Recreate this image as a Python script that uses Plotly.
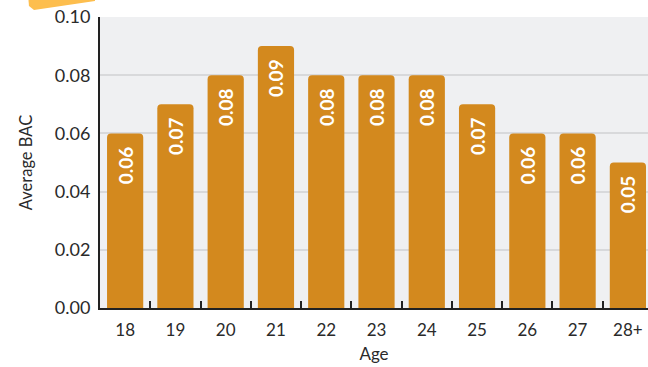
import plotly.graph_objects as go

ages = ["18", "19", "20", "21", "22", "23", "24", "25", "26", "27", "28+"]
avg_bac = [0.06, 0.07, 0.08, 0.09, 0.08, 0.08, 0.08, 0.07, 0.06, 0.06, 0.05]
y_ticks = [0.00, 0.02, 0.04, 0.06, 0.08, 0.10]

W, H = 648, 367
L, R, T, B = 100, 0, 17, 59
pw, ph = W - L - R, H - T - B

def px(x):
    return (x - L) / pw

def py(y):
    return (H - B - y) / ph

FONT = "Lato, Open Sans, sans-serif"

fig = go.Figure(go.Bar(
    x=ages, y=avg_bac,
    marker=dict(color="#D3891E", line=dict(width=0)),
    width=0.72,
    text=[f"{v:.2f}" for v in avg_bac],
    texttemplate="%{text}\u00a0\u00a0",
    textposition="inside", textangle=-90, insidetextanchor="end",
    textfont=dict(family=FONT, size=19, color="white", weight="bold"),
    hoverinfo="x+y",
))

# decorative tab at top-left
deco = [(28, -6), (29, 6), (34, 10), (95, 1), (95, -6)]
path = "M " + " L ".join(f"{px(a):.4f},{py(b):.4f}" for a, b in deco) + " Z"
fig.add_shape(type="path", path=path, xref="paper", yref="paper",
              fillcolor="#FDBE4E", line=dict(width=0), layer="above")

fig.update_layout(
    width=W, height=H,
    margin=dict(l=L, r=R, t=T, b=B, autoexpand=False),
    paper_bgcolor="white", plot_bgcolor="#EFF0F2",
    barcornerradius=4,
    showlegend=False,
    uniformtext=dict(mode=False),
    font=dict(family=FONT, size=17, color="#2a2a2a"),
    xaxis=dict(
        range=[-0.5, 10.4], title=dict(text="Age", font=dict(size=17), standoff=9),
        showline=True, linecolor="#222", linewidth=2,
        ticks="inside", tickson="boundaries", ticklen=7, tickwidth=2, tickcolor="#222",
        showgrid=False, tickfont=dict(size=17), ticklabelstandoff=6, automargin=False,
    ),
    yaxis=dict(
        range=[0, 0.1], tickvals=y_ticks, tickformat=".2f",
        title=dict(text="Average BAC", font=dict(size=16.5), standoff=18),
        showline=True, linecolor="#222", linewidth=2,
        showgrid=True, gridcolor="#D8D9DB", gridwidth=2,
        zeroline=False, tickfont=dict(size=18), ticks="", ticklabelstandoff=4,
        automargin=False,
    ),
)

fig.write_html(
    "out.html",
    config={"displayModeBar": False},
    post_script="document.body.style.margin='0';document.body.style.overflow='hidden';window.dispatchEvent(new Event('resize'));",
)
